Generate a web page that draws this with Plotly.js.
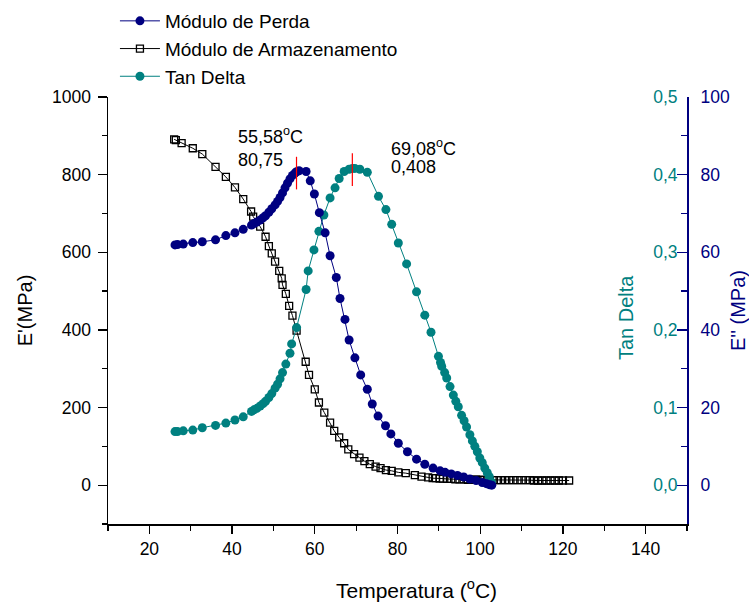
<!DOCTYPE html>
<html>
<head>
<meta charset="utf-8">
<script src="https://cdn.plot.ly/plotly-3.0.1.min.js"></script>
<style>html,body{margin:0;padding:0;background:#fff;}#chart{width:749px;height:602px;}</style>
</head>
<body>
<div id="chart"></div>
<script>
// Módulo de Armazenamento (E', MPa)
const tempStorage = [26.0,26.4,27.8,30.5,32.8,36.0,38.5,40.7,42.7,44.6,45.1,46.8,48.1,48.9,49.6,50.4,51.4,52.0,52.2,53.0,53.8,54.6,55.6,57.8,58.6,60.0,61.0,62.3,63.7,64.7,65.9,67.1,68.1,69.5,70.8,72.0,73.3,74.7,75.9,77.2,78.6,80.2,82.0,84.2,85.8,87.4,88.5,89.3,90.2,91.0,92.0,93.0,94.0,95.0,96.0,97.0,98.0,99.0,100.0,101.0,102.0,103.0,104.0,105.0,106.0,107.0,108.0,109.0,110.0,111.0,112.0,113.0,114.0,115.0,116.0,117.0,118.0,119.0,120.0,121.5];
const storage = [891,889,881,868,853,820,794,767,737,705,692,666,640,616,597,576,552,533,516,493,462,437,398,318,284,247,213,187,161,140,123,108,92,80,71,62,54,48,44,39,37,33,31,26,22,20,18,18,17,17,16,16,15,15,15,14,14,14,14,13,13,13,13,13,13,13,13,13,13,13,13,12,12,12,12,12,12,12,12,12];

// Módulo de Perda (E'', MPa)
const tempLoss = [26.2,26.8,28.2,30.5,32.8,36.0,38.5,40.7,42.7,44.7,45.3,46.0,46.8,47.5,48.1,48.9,49.6,50.4,51.0,51.6,52.2,52.8,53.4,54.0,54.6,55.2,55.6,56.2,57.9,58.9,59.9,61.1,62.5,63.7,65.2,66.1,67.3,68.3,69.7,71.1,72.7,73.9,75.3,77.1,78.4,80.2,82.4,84.6,86.6,88.6,90.3,91.5,93.0,94.5,96.0,97.5,99.0,100.5,101.5,102.3,102.8];
const loss = [61.9,62.0,62.1,62.5,62.7,63.2,64.3,65.0,65.9,67.0,67.4,67.8,68.3,68.9,69.4,70.3,71.2,72.2,73.1,74.1,75.3,76.6,77.8,78.9,79.8,80.4,80.75,81.0,80.8,78.4,75.0,70.2,65.0,59.1,53.5,48.1,42.7,37.4,32.8,28.4,24.7,20.9,17.8,15.3,13.2,10.8,8.6,6.7,5.4,4.4,3.7,3.3,2.9,2.5,2.1,1.6,1.2,0.7,0.4,0.1,0.0];

// Tan Delta
const tempTan = [26.2,26.8,28.2,30.5,32.8,36.0,38.5,40.7,42.7,44.7,45.3,46.0,46.8,47.5,48.1,48.9,49.6,50.4,51.0,51.6,52.2,53.0,54.0,54.4,55.6,57.9,58.4,59.8,61.0,62.2,63.7,64.9,65.9,67.1,68.3,69.1,69.7,70.9,72.7,75.4,77.2,78.6,80.2,82.2,84.6,86.6,88.1,89.9,90.4,90.7,91.4,91.9,92.7,93.5,94.1,94.7,95.5,96.1,96.7,97.5,98.1,98.7,99.3,99.9,100.5,101.1,101.7,102.2,102.7];
const tanDelta = [0.069,0.069,0.070,0.071,0.074,0.077,0.080,0.084,0.088,0.095,0.097,0.099,0.102,0.105,0.108,0.113,0.118,0.125,0.130,0.137,0.145,0.156,0.170,0.182,0.203,0.252,0.276,0.303,0.327,0.348,0.370,0.383,0.395,0.404,0.407,0.408,0.408,0.407,0.403,0.372,0.355,0.336,0.312,0.285,0.249,0.219,0.197,0.166,0.158,0.153,0.145,0.138,0.127,0.116,0.108,0.101,0.090,0.083,0.075,0.065,0.057,0.050,0.043,0.035,0.029,0.022,0.016,0.011,0.004];

// Peak annotations
const lossPeak = {temp: 55.58, label1: "55,58<sup>o</sup>C", label2: "80,75"};
const tanPeak = {temp: 69.08, label1: "69,08<sup>o</sup>C", label2: "0,408"};

const NAVY = '#000080', TEAL = '#008080', FONT = '"Liberation Sans", Arial, sans-serif';

const traces = [
  {x: tempLoss, y: loss, name: 'Módulo de Perda', type: 'scatter', mode: 'lines+markers', yaxis: 'y3',
   line: {color: NAVY, width: 1}, marker: {color: NAVY, size: 9, symbol: 'circle'}},
  {x: tempStorage, y: storage, name: 'Módulo de Armazenamento', type: 'scatter', mode: 'lines+markers', yaxis: 'y',
   line: {color: '#000', width: 1}, marker: {color: '#000', size: 7, symbol: 'square-open', line: {width: 1.3, color: '#000'}}},
  {x: tempTan, y: tanDelta, name: 'Tan Delta', type: 'scatter', mode: 'lines+markers', yaxis: 'y2',
   line: {color: TEAL, width: 1}, marker: {color: TEAL, size: 9, symbol: 'circle'}}
];

const layout = {
  width: 749, height: 602,
  margin: {l: 108, r: 62, t: 97, b: 78},
  paper_bgcolor: '#fff', plot_bgcolor: '#fff',
  separators: ',.',
  font: {family: FONT, size: 17.5, color: '#000'},
  showlegend: true,
  legend: {x: 0.012, y: 1 - 2 / 602, xref: 'paper', yref: 'container', xanchor: 'left', yanchor: 'top',
           font: {family: FONT, size: 19, color: '#000'},
           bgcolor: 'rgba(0,0,0,0)', borderwidth: 0, itemwidth: 40, tracegroupgap: 0},
  xaxis: {range: [10, 150], dtick: 20, tick0: 0, ticks: 'outside', ticklen: 8, tickwidth: 1.2, tickcolor: '#000',
          minor: {dtick: 10, ticks: 'outside', ticklen: 5, tickcolor: '#000'},
          showline: true, linecolor: '#000', linewidth: 1.5, showgrid: false, zeroline: false,
          tickfont: {size: 17.5}},
  xaxis2: {range: [10, 150], overlaying: 'x', side: 'top', anchor: 'y', dtick: 20, tick0: 0, ticks: 'inside', ticklen: 8,
          minor: {dtick: 10, ticks: 'inside', ticklen: 5}, showticklabels: false,
          showline: true, linecolor: '#000', linewidth: 1.5, showgrid: false, zeroline: false},
  yaxis: {range: [-100, 1000], dtick: 200, tick0: 0, ticks: 'outside', ticklen: 9, tickwidth: 1.2, tickcolor: '#000',
          minor: {dtick: 100, ticks: 'outside', ticklen: 5, tickcolor: '#000'},
          showline: true, linecolor: '#000', linewidth: 1.5, showgrid: false, zeroline: false,
          tickfont: {size: 17.5}, ticklabelstandoff: 3,
          title: {text: "E'(MPa)", font: {size: 20}, standoff: 14}},
  yaxis2: {range: [-0.05, 0.5], overlaying: 'y', side: 'right', anchor: 'x', dtick: 0.1, tick0: 0, tickformat: '.1f',
          ticks: 'inside', ticklen: 10, tickcolor: NAVY, tickwidth: 1.2, ticklabelposition: 'inside', ticklabeloverflow: 'allow',
          showline: false, showgrid: false, zeroline: false, tickfont: {size: 17.5, color: TEAL}},
  yaxis3: {range: [-10, 100], overlaying: 'y', side: 'right', anchor: 'x', dtick: 20, tick0: 0,
          ticks: 'inside', ticklen: 10, tickcolor: NAVY, tickwidth: 1.2,
          minor: {dtick: 10, ticks: 'inside', ticklen: 6, tickcolor: NAVY},
          showline: true, linecolor: NAVY, linewidth: 2, showgrid: false, zeroline: false,
          tickfont: {size: 17.5, color: NAVY}, ticklabelstandoff: 8,
          title: {text: "E'' (MPa)", font: {size: 20, color: NAVY}, standoff: 4}},
  shapes: [
    {type: 'line', xref: 'x', yref: 'y', x0: lossPeak.temp, x1: lossPeak.temp, y0: 762, y1: 846, line: {color: '#ff0000', width: 1.2}},
    {type: 'line', xref: 'x', yref: 'y', x0: tanPeak.temp, x1: tanPeak.temp, y0: 771, y1: 855, line: {color: '#ff0000', width: 1.2}}
  ],
  annotations: [
    {xref: 'x', yref: 'y', x: 40.9, y: 902, text: lossPeak.label1, showarrow: false, xanchor: 'left', font: {size: 18}},
    {xref: 'x', yref: 'y', x: 40.9, y: 838, text: lossPeak.label2, showarrow: false, xanchor: 'left', font: {size: 18}},
    {xref: 'x', yref: 'y', x: 77.9, y: 871, text: tanPeak.label1, showarrow: false, xanchor: 'left', font: {size: 18}},
    {xref: 'x', yref: 'y', x: 77.9, y: 820, text: tanPeak.label2, showarrow: false, xanchor: 'left', font: {size: 18}},
    {xref: 'paper', yref: 'paper', x: (416 - 108) / 579, y: (524 - 589) / 427, text: 'Temperatura (<sup>o</sup>C)', showarrow: false,
     xanchor: 'center', yanchor: 'middle', font: {size: 21}},
    {xref: 'paper', yref: 'paper', x: (626 - 108) / 579, y: (524 - 318) / 427, text: 'Tan Delta', textangle: -90, showarrow: false,
     xanchor: 'center', yanchor: 'middle', font: {size: 20, color: TEAL}}
  ]
};

Plotly.newPlot('chart', traces, layout, {displayModeBar: false, staticPlot: true});
</script>
</body>
</html>
